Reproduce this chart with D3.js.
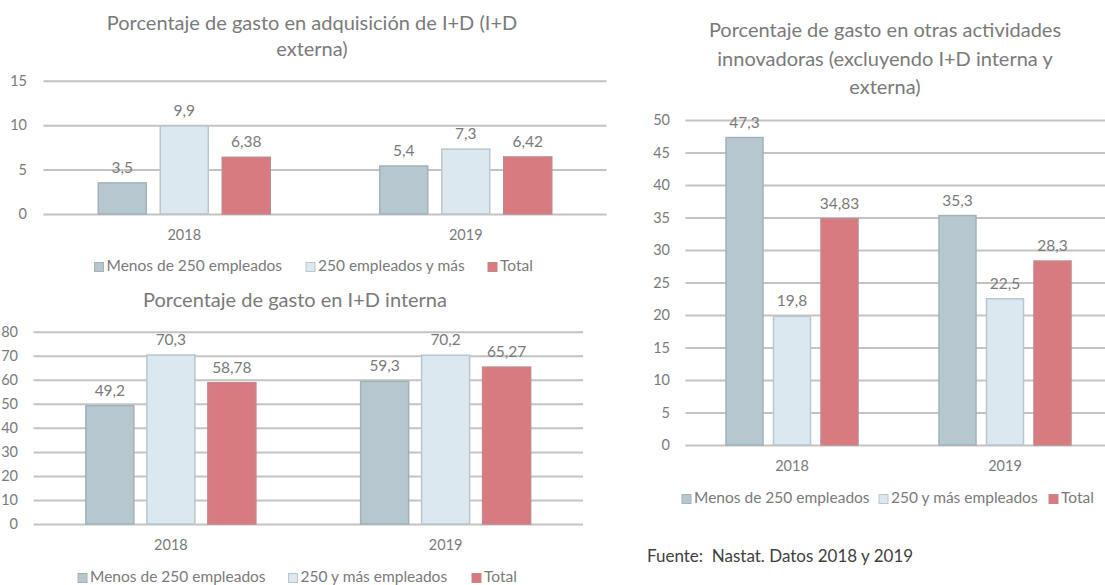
<!DOCTYPE html>
<html>
<head>
<meta charset="utf-8">
<script src="https://cdn.jsdelivr.net/npm/d3@7"></script>
<style>
  body { margin: 0; background: #fff; }
  svg { display: block; font-family: Lato, "Open Sans", sans-serif; }
</style>
</head>
<body>
<svg id="chart" width="1105" height="585"></svg>
<script>
// data
const years = ['2018', '2019'];
const seriesA = ['Menos de 250 empleados', '250 empleados y más', 'Total'];
const seriesB = ['Menos de 250 empleados', '250 y más empleados', 'Total'];

const externaMenos = [3.5, 5.4];
const externaGrandes = [9.9, 7.3];
const externaTotal = [6.38, 6.42];

const internaMenos = [49.2, 59.3];
const internaGrandes = [70.3, 70.2];
const internaTotal = [58.78, 65.27];

const otrasMenos = [47.3, 35.3];
const otrasGrandes = [19.8, 22.5];
const otrasTotal = [34.83, 28.3];

const ticksExterna = [0, 5, 10, 15];
const ticksInterna = [0, 10, 20, 30, 40, 50, 60, 70, 80];
const ticksOtras = [0, 5, 10, 15, 20, 25, 30, 35, 40, 45, 50];

const fills = ['#b7c7cf', '#dbe8ef', '#d77b80'];
const strokes = ['#a3b1b8', '#b9c6cc', '#c4878a'];
const textGray = '#7a7a7a';

const svg = d3.select('#chart');
const fmt = v => String(v).replace('.', ',');

const drawChart = cfg => {
  const g = svg.append('g');
  const values = cfg.values;

  const y = d3.scaleLinear()
    .domain([0, d3.max(cfg.ticks)])
    .range([cfg.yBottom, cfg.yTop]);

  const x = d3.scaleBand()
    .domain(years)
    .range([cfg.x0, cfg.x1]);

  const p = 1 - cfg.barW / cfg.barStep;
  const inner = d3.scaleBand()
    .domain(d3.range(values.length))
    .range([-1.5 * cfg.barStep, 1.5 * cfg.barStep])
    .paddingInner(p)
    .paddingOuter(p / 2);

  // title
  const title = g.append('text')
    .attr('x', cfg.titleX)
    .attr('y', cfg.titleY)
    .attr('text-anchor', 'middle')
    .attr('fill', textGray)
    .style('font-size', '20px');
  cfg.title.forEach((line, i) => {
    title.append('tspan')
      .attr('x', cfg.titleX)
      .attr('dy', i === 0 ? 0 : cfg.titleLead)
      .text(line);
  });

  // gridlines
  const yAxis = d3.axisLeft(y)
    .tickValues(cfg.ticks)
    .tickSize(-(cfg.gridX1 - cfg.x0))
    .tickPadding(cfg.x0 - cfg.tickX)
    .tickFormat(d3.format('d'));

  const axisG = g.append('g')
    .attr('transform', `translate(${cfg.x0},0)`)
    .call(yAxis);
  axisG.select('.domain').remove();
  axisG.selectAll('line')
    .attr('stroke', '#c3c3c3')
    .attr('stroke-width', 2);
  axisG.selectAll('text')
    .attr('fill', textGray)
    .style('font-family', 'Lato, sans-serif')
    .style('font-size', '14.5px');

  // bars
  const groups = g.selectAll('.year')
    .data(years)
    .enter()
    .append('g')
    .attr('transform', d => `translate(${x(d) + x.bandwidth() / 2},0)`);

  values.forEach((arr, s) => {
    groups.append('rect')
      .attr('x', inner(s))
      .attr('width', inner.bandwidth())
      .attr('y', (d, i) => y(arr[i]))
      .attr('height', (d, i) => y(0) - y(arr[i]))
      .attr('fill', fills[s])
      .attr('stroke', strokes[s])
      .attr('stroke-width', 1.5);

    groups.append('text')
      .attr('x', inner(s) + inner.bandwidth() / 2)
      .attr('y', (d, i) => y(arr[i]) - 10)
      .attr('text-anchor', 'middle')
      .attr('fill', textGray)
      .style('font-size', '15.5px')
      .text((d, i) => fmt(arr[i]));
  });

  // year labels
  groups.append('text')
    .attr('x', 0)
    .attr('y', cfg.yearY)
    .attr('text-anchor', 'middle')
    .attr('dominant-baseline', 'middle')
    .attr('fill', textGray)
    .style('font-size', '14.5px')
    .text(d => d);

  // legend
  const legend = g.selectAll('.legend')
    .data(cfg.legend)
    .enter()
    .append('g')
    .attr('transform', (d, i) => `translate(${cfg.legendX[i]},${cfg.legendY})`);

  legend.append('rect')
    .attr('x', 0)
    .attr('y', -4.5)
    .attr('width', 9)
    .attr('height', 9)
    .attr('fill', (d, i) => fills[i])
    .attr('stroke', (d, i) => strokes[i]);

  legend.append('text')
    .attr('x', 12)
    .attr('y', 0)
    .attr('dominant-baseline', 'middle')
    .attr('fill', textGray)
    .style('font-size', '15.5px')
    .text(d => d);
};

drawChart({
  values: [externaMenos, externaGrandes, externaTotal],
  ticks: ticksExterna,
  title: ['Porcentaje de gasto en adquisición de I+D (I+D', 'externa)'],
  titleX: 312, titleY: 30, titleLead: 26,
  x0: 43.5, x1: 606.5, gridX1: 606.5,
  yBottom: 214, yTop: 80.7,
  barW: 48, barStep: 62,
  tickX: 27,
  yearY: 236,
  legend: seriesA,
  legendX: [94.5, 306, 488],
  legendY: 267
});

drawChart({
  values: [internaMenos, internaGrandes, internaTotal],
  ticks: ticksInterna,
  title: ['Porcentaje de gasto en I+D interna'],
  titleX: 295, titleY: 307, titleLead: 26,
  x0: 33.5, x1: 583, gridX1: 583,
  yBottom: 524, yTop: 331.7,
  barW: 48, barStep: 61,
  tickX: 18,
  yearY: 546,
  legend: seriesB,
  legendX: [78, 288.5, 472],
  legendY: 578
});

drawChart({
  values: [otrasMenos, otrasGrandes, otrasTotal],
  ticks: ticksOtras,
  title: ['Porcentaje de gasto en otras actividades', 'innovadoras (excluyendo I+D interna y', 'externa)'],
  titleX: 885, titleY: 37, titleLead: 28.5,
  x0: 685.5, x1: 1111.5, gridX1: 1111.5,
  yBottom: 445, yTop: 120,
  barW: 37, barStep: 47.5,
  tickX: 670,
  yearY: 467,
  legend: seriesB,
  legendX: [682, 879, 1049],
  legendY: 499
});

svg.append('text')
  .attr('x', 647)
  .attr('y', 558)
  .attr('dominant-baseline', 'middle')
  .attr('fill', '#404040')
  .style('font-size', '17px')
  .style('white-space', 'pre')
  .text('Fuente:  Nastat. Datos 2018 y 2019');
</script>
</body>
</html>
